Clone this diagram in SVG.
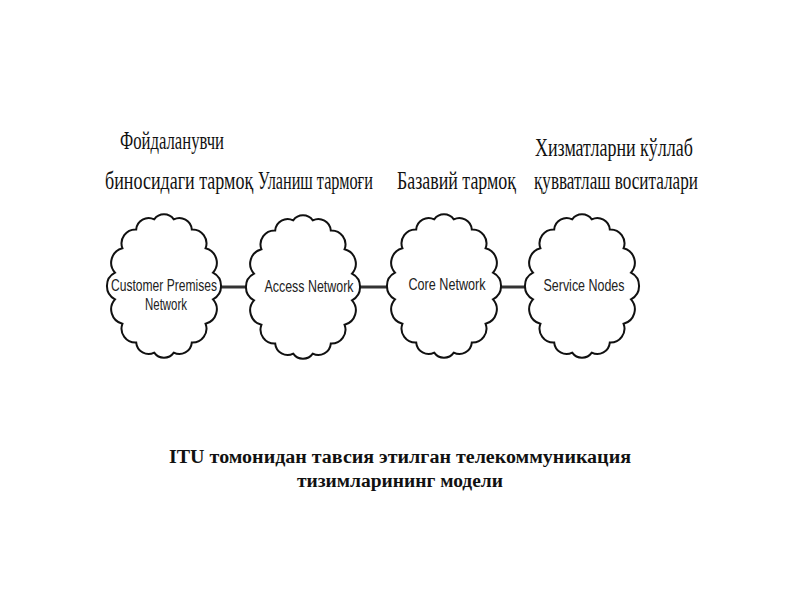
<svg xmlns="http://www.w3.org/2000/svg" xmlns:xlink="http://www.w3.org/1999/xlink" width="800" height="600" viewBox="0 0 800 600">
<style>
.lbl{font-family:"Liberation Serif","Times New Roman",serif;font-size:26px;fill:#111;}
.ctext{font-family:"Liberation Sans",Arial,sans-serif;font-size:17px;fill:#222;text-anchor:middle;}
.cap{font-family:"Liberation Serif","Times New Roman",serif;font-size:18px;font-weight:bold;fill:#111;text-anchor:middle;}
.cloud{fill:#fff;stroke:#111;stroke-width:2;}
.conn{stroke:#333;stroke-width:3;fill:none;}
</style>
<defs>
<path id="cloud" d="M49,-13.3 A15 15 0 0 1 49,13.3 A15 15 0 0 1 41.6,37.8 A14 14 0 0 1 27.8,56.6 A12.5 12.5 0 0 1 9.8,66.7 A12 12 0 0 1 -9.8,66.7 A12.5 12.5 0 0 1 -27.8,56.6 A14 14 0 0 1 -41.6,37.8 A15 15 0 0 1 -49,13.3 A15 15 0 0 1 -49,-13.3 A15 15 0 0 1 -41.6,-37.8 A14 14 0 0 1 -27.8,-56.6 A12.5 12.5 0 0 1 -9.8,-66.7 A12 12 0 0 1 9.8,-66.7 A12.5 12.5 0 0 1 27.8,-56.6 A14 14 0 0 1 41.6,-37.8 A15 15 0 0 1 49,-13.3 Z"/>
</defs>
<rect width="800" height="600" fill="#fff"/>
<g id="connectors">
<line class="conn" x1="219" y1="287" x2="249" y2="287"/>
<line class="conn" x1="357" y1="287" x2="390" y2="287"/>
<line class="conn" x1="498" y1="287" x2="529" y2="287"/>
</g>
<g id="node-customer">
<use xlink:href="#cloud" class="cloud" transform="translate(164,286)"/>
<text class="ctext" x="164" y="291" textLength="106" lengthAdjust="spacingAndGlyphs">Customer Premises</text>
<text class="ctext" x="166" y="310" textLength="42" lengthAdjust="spacingAndGlyphs">Network</text>
</g>
<g id="node-access">
<use xlink:href="#cloud" class="cloud" transform="translate(303,287)"/>
<text class="ctext" x="309" y="292" textLength="89" lengthAdjust="spacingAndGlyphs">Access Network</text>
</g>
<g id="node-core">
<use xlink:href="#cloud" class="cloud" transform="translate(444,286)"/>
<text class="ctext" x="447" y="290" textLength="77" lengthAdjust="spacingAndGlyphs">Core Network</text>
</g>
<g id="node-service">
<use xlink:href="#cloud" class="cloud" transform="translate(582,286)"/>
<text class="ctext" x="584" y="291" textLength="81" lengthAdjust="spacingAndGlyphs">Service Nodes</text>
</g>
<g id="labels">
<text class="lbl" transform="translate(120,149) scale(0.68,1)" textLength="153" lengthAdjust="spacingAndGlyphs">Фойдаланувчи</text>
<text class="lbl" transform="translate(105,189) scale(0.68,1)" textLength="218" lengthAdjust="spacingAndGlyphs">биносидаги тармоқ</text>
<text class="lbl" transform="translate(258,189) scale(0.68,1)" textLength="169" lengthAdjust="spacingAndGlyphs">Уланиш тармоғи</text>
<text class="lbl" transform="translate(397,189) scale(0.68,1)" textLength="175" lengthAdjust="spacingAndGlyphs">Базавий тармоқ</text>
<text class="lbl" transform="translate(535,156) scale(0.68,1)" textLength="232" lengthAdjust="spacingAndGlyphs">Хизматларни кўллаб</text>
<text class="lbl" transform="translate(534,189) scale(0.68,1)" textLength="241" lengthAdjust="spacingAndGlyphs">қувватлаш воситалари</text>
</g>
<g id="caption">
<text class="cap" x="400" y="463" textLength="462" lengthAdjust="spacingAndGlyphs">ITU томонидан тавсия этилган телекоммуникация</text>
<text class="cap" x="400" y="487" textLength="206" lengthAdjust="spacingAndGlyphs">тизимларининг модели</text>
</g>
</svg>
